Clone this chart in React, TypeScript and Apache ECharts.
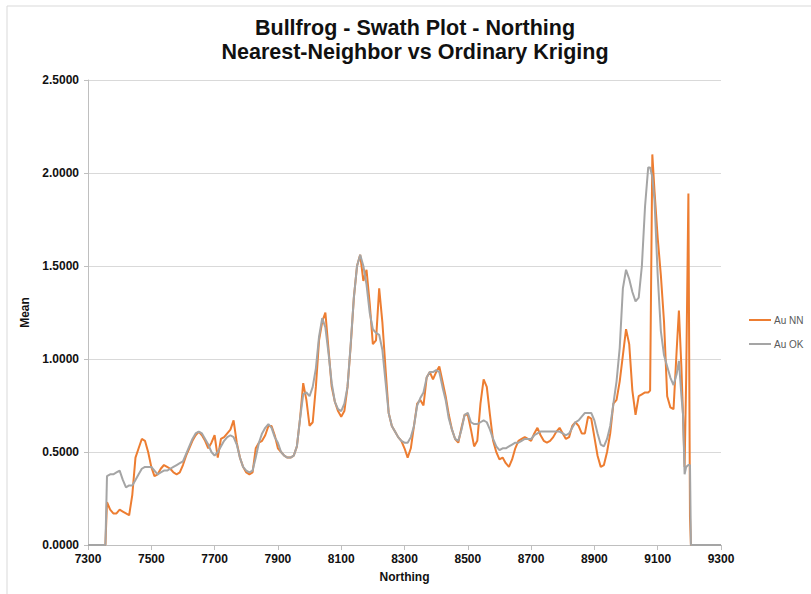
import React, { useEffect, useRef } from "react";
import * as echarts from "echarts";

const titleLines = ["Bullfrog - Swath Plot - Northing", "Nearest-Neighbor vs Ordinary Kriging"];
const seriesNames = ["Au NN", "Au OK"];
const xTickValues = [7300, 7500, 7700, 7900, 8100, 8300, 8500, 8700, 8900, 9100, 9300];

const northing = [
  7300, 7350, 7355, 7360, 7370, 7380, 7390, 7400, 7410, 7420, 7430, 7440, 7450, 7460, 7470, 7480, 7490,
  7500, 7510, 7520, 7530, 7540, 7550, 7560, 7570, 7580, 7590, 7600, 7610, 7620, 7630, 7640, 7650, 7660,
  7670, 7680, 7690, 7700, 7710, 7720, 7730, 7740, 7750, 7760, 7770, 7780, 7790, 7800, 7810, 7820, 7830,
  7840, 7850, 7860, 7870, 7880, 7890, 7900, 7910, 7920, 7930, 7940, 7950, 7960, 7970, 7980, 7990, 8000,
  8010, 8020, 8030, 8040, 8050, 8060, 8070, 8080, 8090, 8100, 8110, 8120, 8130, 8140, 8150, 8160, 8170,
  8180, 8190, 8200, 8210, 8220, 8230, 8240, 8250, 8260, 8270, 8280, 8290, 8300, 8310, 8320, 8330, 8340,
  8350, 8360, 8370, 8380, 8390, 8400, 8410, 8420, 8430, 8440, 8450, 8460, 8470, 8480, 8490, 8500, 8510,
  8520, 8530, 8540, 8550, 8560, 8570, 8580, 8590, 8600, 8610, 8620, 8630, 8640, 8650, 8660, 8670, 8680,
  8690, 8700, 8710, 8720, 8730, 8740, 8750, 8760, 8770, 8780, 8790, 8800, 8810, 8820, 8830, 8840, 8850,
  8860, 8870, 8880, 8890, 8900, 8910, 8920, 8930, 8940, 8950, 8960, 8970, 8980, 8990, 9000, 9010, 9020,
  9030, 9040, 9050, 9060, 9070, 9076, 9083, 9090, 9100, 9110, 9120, 9130, 9140, 9150, 9160, 9167, 9175,
  9180, 9185, 9190, 9197, 9202, 9205, 9300,
];

const auOK = [
  0, 0, 0, 0.37, 0.38, 0.38, 0.39, 0.4, 0.35, 0.31, 0.32, 0.32, 0.35, 0.38, 0.41, 0.42, 0.42,
  0.42, 0.4, 0.38, 0.39, 0.4, 0.4, 0.41, 0.42, 0.43, 0.44, 0.45, 0.49, 0.53, 0.57, 0.6, 0.61, 0.6,
  0.57, 0.54, 0.5, 0.48, 0.5, 0.53, 0.56, 0.58, 0.59, 0.58, 0.54, 0.47, 0.42, 0.4, 0.39, 0.4, 0.47,
  0.55, 0.6, 0.63, 0.65, 0.63, 0.58, 0.55, 0.5, 0.48, 0.47, 0.47, 0.48, 0.53, 0.68, 0.81, 0.82, 0.8,
  0.85, 0.95, 1.12, 1.22, 1.17, 1.03, 0.87, 0.77, 0.73, 0.72, 0.76, 0.85, 1.08, 1.33, 1.5, 1.56, 1.5,
  1.4, 1.25, 1.16, 1.14, 1.13, 1.05, 0.88, 0.71, 0.64, 0.61, 0.58, 0.56, 0.55, 0.55, 0.58, 0.64, 0.75,
  0.79, 0.82, 0.9, 0.93, 0.93, 0.94, 0.93, 0.85, 0.78, 0.68, 0.62, 0.57, 0.56, 0.62, 0.7, 0.71, 0.66,
  0.65, 0.65, 0.66, 0.67, 0.66, 0.62, 0.57, 0.53, 0.51, 0.52, 0.52, 0.53, 0.54, 0.55, 0.55, 0.56, 0.57,
  0.57, 0.57, 0.59, 0.6, 0.61, 0.61, 0.61, 0.61, 0.61, 0.61, 0.61, 0.6, 0.59, 0.6, 0.63, 0.66, 0.67,
  0.69, 0.71, 0.71, 0.71, 0.67, 0.6, 0.54, 0.53, 0.57, 0.64, 0.76, 0.88, 1.06, 1.38, 1.48, 1.43, 1.36,
  1.31, 1.33, 1.5, 1.82, 2.03, 2.03, 1.98, 1.85, 1.45, 1.15, 1.02, 0.96, 0.9, 0.86, 0.92, 0.99, 0.8,
  0.7, 0.38, 0.42, 0.43, 0.43, 0, 0,
];

const auNN = [
  0, 0, 0, 0.23, 0.19, 0.17, 0.17, 0.19, 0.18, 0.17, 0.16, 0.27, 0.47, 0.52, 0.57, 0.56, 0.5,
  0.42, 0.37, 0.38, 0.41, 0.43, 0.42, 0.41, 0.39, 0.38, 0.39, 0.43, 0.48, 0.52, 0.56, 0.59, 0.61, 0.59,
  0.56, 0.52, 0.55, 0.59, 0.47, 0.57, 0.58, 0.6, 0.62, 0.67, 0.55, 0.47, 0.42, 0.39, 0.38, 0.39, 0.52,
  0.55, 0.56, 0.59, 0.64, 0.64, 0.59, 0.52, 0.5, 0.48, 0.47, 0.47, 0.48, 0.53, 0.68, 0.87, 0.78, 0.64,
  0.66, 0.85, 1.1, 1.2, 1.25, 1.05, 0.85, 0.77, 0.72, 0.69, 0.72, 0.85, 1.07, 1.33, 1.5, 1.56, 1.42,
  1.48, 1.3, 1.08, 1.1, 1.38, 1.2, 0.95, 0.71, 0.64, 0.61, 0.58, 0.56, 0.52, 0.47, 0.52, 0.64, 0.76,
  0.78, 0.75, 0.9, 0.93, 0.89, 0.93, 0.96, 0.88, 0.8, 0.7, 0.62, 0.57, 0.55, 0.63, 0.7, 0.7, 0.62,
  0.53, 0.56, 0.76, 0.89, 0.85, 0.7, 0.56, 0.5, 0.46, 0.47, 0.44, 0.42, 0.46, 0.52, 0.56, 0.57, 0.58,
  0.57, 0.56, 0.6, 0.63, 0.59, 0.56, 0.55, 0.56, 0.58, 0.61, 0.63, 0.6, 0.57, 0.58, 0.64, 0.66, 0.64,
  0.6, 0.6, 0.69, 0.68, 0.58, 0.48, 0.42, 0.43, 0.5, 0.6, 0.76, 0.78, 0.88, 1.02, 1.16, 1.08, 0.83,
  0.7, 0.8, 0.81, 0.82, 0.82, 0.83, 2.1, 1.9, 1.65, 1.45, 1.2, 0.8, 0.74, 0.73, 1.05, 1.26, 0.95,
  0.7, 0.42, 0.9, 1.89, 0.15, 0, 0,
];

export default function App() {
  const ref = useRef<HTMLDivElement>(null);
  useEffect(() => {
    document.body.style.margin = "0";
    const chart = echarts.init(ref.current!, null, { renderer: "svg" });
    const font = "'Liberation Sans', Arial, sans-serif";
    chart.setOption({
      animation: false,
      backgroundColor: "#ffffff",
      textStyle: { fontFamily: font },
      graphic: [
        {
          type: "rect",
          shape: { x: 7, y: 6, width: 900, height: 700 },
          style: { fill: "none", stroke: "#d9d9d9", lineWidth: 1 },
          silent: true,
        },
        {
          type: "text",
          x: 415,
          y: 28,
          style: {
            text: titleLines[0],
            font: `bold 21.5px ${font}`,
            fill: "#111111",
            textAlign: "center",
            textVerticalAlign: "middle",
          },
        },
        {
          type: "text",
          x: 415,
          y: 52,
          style: {
            text: titleLines[1],
            font: `bold 21.5px ${font}`,
            fill: "#111111",
            textAlign: "center",
            textVerticalAlign: "middle",
          },
        },
      ],
      legend: {
        orient: "vertical",
        left: 749,
        top: 315,
        icon: "rect",
        itemWidth: 22,
        itemHeight: 2,
        itemGap: 14,
        padding: 0,
        data: seriesNames,
        textStyle: { fontSize: 10, color: "#595959", fontFamily: font, padding: [0, 0, 0, -2] },
      },
      grid: { left: 88, right: 90, top: 80, bottom: 49, containLabel: false },
      xAxis: {
        type: "value",
        min: 7300,
        max: 9300,
        interval: 200,
        name: "Northing",
        nameLocation: "middle",
        nameGap: 26,
        nameTextStyle: { fontWeight: "bold", fontSize: 12, color: "#111111" },
        axisLine: { lineStyle: { color: "#bfbfbf" } },
        axisTick: { show: true, length: 5, lineStyle: { color: "#bfbfbf" } },
        splitLine: { show: false },
        axisLabel: {
          fontWeight: "bold",
          fontSize: 12,
          color: "#111111",
          margin: 8,
          formatter: (v: number) => (xTickValues.includes(v) ? String(v) : ""),
        },
      },
      yAxis: {
        type: "value",
        min: 0,
        max: 2.5,
        interval: 0.5,
        name: "Mean",
        nameLocation: "middle",
        nameGap: 52,
        nameTextStyle: { fontWeight: "bold", fontSize: 12, color: "#111111" },
        axisLine: { show: true, lineStyle: { color: "#bfbfbf" } },
        axisTick: { show: true, length: 4, lineStyle: { color: "#bfbfbf" } },
        splitLine: { show: true, lineStyle: { color: "#d9d9d9", width: 1 } },
        axisLabel: {
          fontWeight: "bold",
          fontSize: 12,
          color: "#111111",
          margin: 9,
          formatter: (v: number) => v.toFixed(4),
        },
      },
      series: [
        {
          name: seriesNames[0],
          type: "line",
          symbol: "none",
          data: northing.map((n, i) => [n, auNN[i]]),
          lineStyle: { color: "#ED7D31", width: 2 },
          itemStyle: { color: "#ED7D31" },
          z: 2,
        },
        {
          name: seriesNames[1],
          type: "line",
          symbol: "none",
          data: northing.map((n, i) => [n, auOK[i]]),
          lineStyle: { color: "#A5A5A5", width: 2 },
          itemStyle: { color: "#A5A5A5" },
          z: 3,
        },
      ],
    });
    return () => chart.dispose();
  }, []);
  return <div ref={ref} style={{ width: 811, height: 594 }} />;
}
